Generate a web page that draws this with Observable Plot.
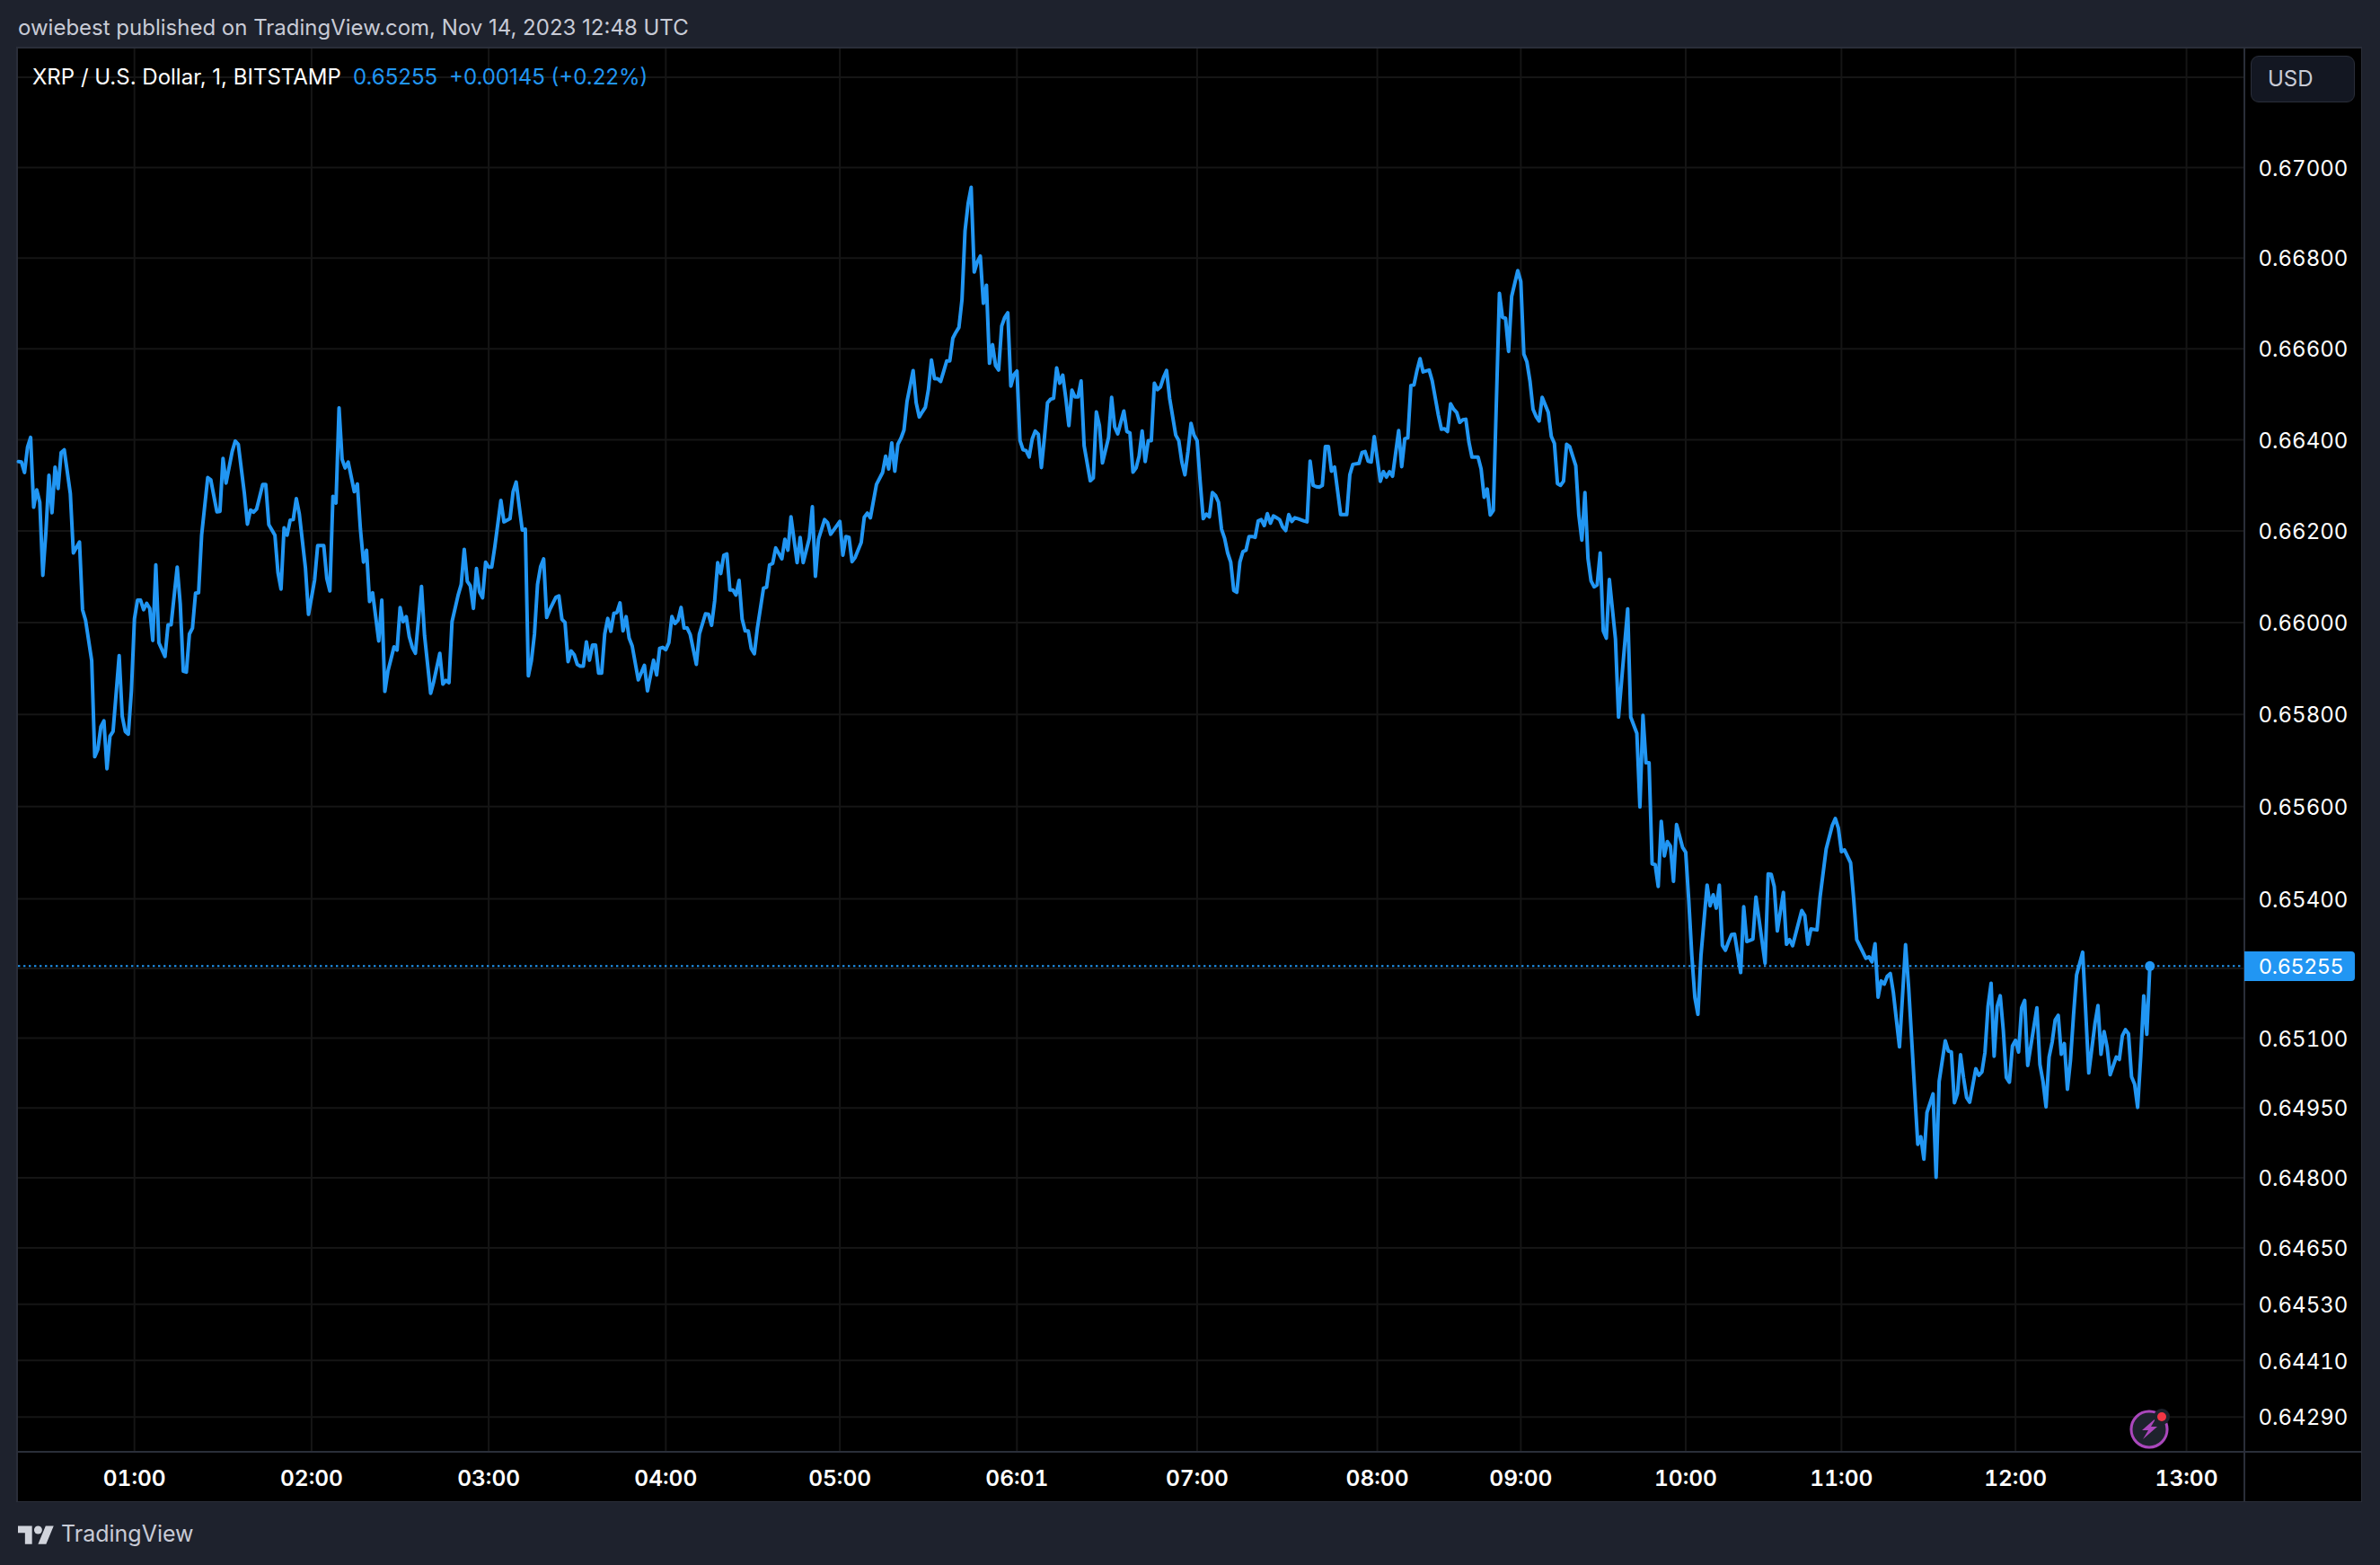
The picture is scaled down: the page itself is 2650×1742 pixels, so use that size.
<!DOCTYPE html>
<html><head><meta charset="utf-8">
<script src="https://cdn.jsdelivr.net/npm/d3@7"></script>
<script src="https://cdn.jsdelivr.net/npm/@observablehq/plot@0.6"></script>
<style>
html,body{margin:0;padding:0;background:#1e222d;width:2650px;height:1742px;overflow:hidden;font-family:Inter,"Noto Sans",sans-serif}
#page{position:relative;width:2650px;height:1742px}
.t{position:absolute;white-space:pre;line-height:1}
#box{position:absolute;left:19px;top:53px;width:2610px;height:1618px;background:#000;outline:2px solid #2a2e39;outline-offset:-1px}
#chart{position:absolute;left:20px;top:54px}
#chart svg{display:block;background:#000}
.sep{position:absolute;background:#2a2e39}
</style></head><body><div id="page">
<div class="t" id="pub" style="left:20px;top:19px;font-size:24px;color:#c8cbd6">owiebest published on TradingView.com, Nov 14, 2023 12:48 UTC</div>
<div id="box"></div>
<div id="chart"></div>
<div class="sep" style="left:2498px;top:54px;width:2px;height:1617px"></div>
<div class="sep" style="left:20px;top:1615px;width:2609px;height:2px"></div>
<div class="t" style="left:36px;top:74px;font-size:24px;color:#fff">XRP / U.S. Dollar, 1, BITSTAMP</div>
<div class="t" style="left:393px;top:74px;font-size:24px;color:#2196f3">0.65255</div>
<div class="t" style="left:500px;top:74px;font-size:24px;color:#2196f3">+0.00145 (+0.22%)</div>
<div style="position:absolute;left:2506px;top:62px;width:116px;height:52px;background:#131722;border:1px solid #2a2e39;border-radius:9px;box-sizing:border-box"></div>
<div class="t" style="left:2525px;top:76px;font-size:24px;color:#c8cbd6">USD</div>
<div id="lastTag" style="position:absolute;left:2499px;width:123px;height:33px;background:#2196f3;border-radius:0 4px 4px 0"></div>
<div id="lastTxt" class="t" style="left:2515px;font-size:23.5px;color:#fff;letter-spacing:.3px">0.65255</div>
<svg style="position:absolute;left:0;top:0" width="2650" height="1742">
  <circle cx="2393" cy="1591" r="21.5" fill="#1e222d"/>
  <circle cx="2393" cy="1591" r="20" fill="none" stroke="#ab47bc" stroke-width="3"/>
  <path d="M2401 1578l-16 14h7l-6 10 16-14h-7z" fill="#ab47bc"/>
  <circle cx="2407" cy="1577" r="9" fill="#1e222d"/>
  <circle cx="2407" cy="1577" r="5" fill="#f23645"/>
  <g transform="translate(20,1694) scale(1.12)" fill="#d1d4dc"><path d="M14 22H7V11H0V4h14v18zM28 22h-8l7.5-18h8L28 22z"/><circle cx="20" cy="8" r="4"/></g>
</svg>
<div class="t" style="left:68px;top:1695px;font-size:25px;color:#c8cbd6">TradingView</div>
</div>
<script>
const bars = [
0,1,2,3,4,5,6,7,8,9,
10,11,12,13,14,15,17,18,20,21,
22,24,25,26,27,28,29,30,31,33,
34,35,36,37,38,39,40,41,42,43,
44,45,46,48,49,50,52,53,54,55,
56,57,58,59,60,62,63,65,66,67,
68,70,71,72,74,75,76,77,78,80,
81,82,84,85,86,87,88,89,90,91,
92,94,95,97,98,100,101,102,103,104,
105,106,107,108,110,111,112,113,114,115,
116,118,119,120,121,122,123,124,125,126,
127,128,129,130,132,133,135,136,138,139,
140,141,142,144,145,146,147,148,149,150,
151,152,153,154,155,156,158,159,161,162,
163,165,166,167,168,169,170,171,172,173,
174,176,177,178,179,180,181,182,183,184,
185,186,187,188,189,190,191,192,193,194,
195,196,197,198,199,200,201,203,205,206,
208,209,210,211,212,213,214,215,216,217,
218,219,220,222,223,225,226,227,228,229,
230,231,232,233,234,235,236,237,238,239,
240,241,242,244,245,246,247,248,250,251,
252,253,255,256,257,259,260,261,262,264,
265,266,269,270,271,272,273,274,276,277,
278,279,281,283,284,285,286,287,288,289,
290,291,293,294,295,296,297,298,299,300,
301,302,303,304,305,306,307,308,309,310,
311,312,313,314,315,316,317,318,319,320,
321,322,323,324,325,326,327,328,329,330,
331,332,333,334,335,336,337,338,339,340,
341,342,343,344,345,346,347,348,349,351,
352,353,354,355,357,358,359,360,362,363,
364,365,366,367,368,369,370,371,372,373,
374,375,376,377,379,380,381,382,383,384,
385,386,387,388,389,390,391,392,393,394,
395,396,397,398,399,400,401,402,403,404,
405,406,407,408,409,410,411,412,413,414,
415,416,417,418,419,421,422,423,424,425,
426,427,428,429,430,431,433,435,436,437,
439,440,441,442,443,444,446,447,448,449,
450,452,453,454,455,456,457,458,459,460,
462,463,465,466,467,468,469,470,471,472,
473,474,475,476,478,479,480,481,482,483,
485,486,487,488,489,491,492,493,494,495,
496,497,498,499,501,502,503,504,505,506,
507,508,510,511,512,513,514,515,516,517,
518,519,520,521,523,524,527,528,530,531,
532,533,534,535,536,537,538,539,540,541,
542,543,545,546,547,548,549,550,551,553,
554,555,556,557,558,559,560,561,562,564,
565,566,568,569,572,573,574,575,576,578,
579,580,581,584,585,586,587,589,590,592,
594,595,596,597,598,600,601,602,605,606,
607,608,609,610,611,612,613,614,615,616,
618,619,622,623,624,625,627,628,629,631,
632,633,634,635,636,637,638,639,641,642,
643,644,645,646,647,648,649,650,651,652,
653,654,655,656,657,658,661,662,663,664,
665,666,667,668,669,670,671,672,673,674,
676,678,680,681,682,683,684,685,687,688,
689,690,691,692,693,694,695,696,697,698];
const prices = [
.66352,.66351,.66328,.66384,.66405,.66252,.66290,.66263,.66103,.66197,
.66322,.66240,.66340,.66293,.66372,.66378,.66282,.66152,.66176,.66028,
.66005,.65917,.65708,.65724,.65773,.65786,.65682,.65753,.65763,.65928,
.65796,.65763,.65757,.65851,.66008,.66049,.66049,.66028,.66042,.66031,
.65961,.66126,.65956,.65926,.65995,.65995,.66121,.66041,.65894,.65892,
.65975,.65988,.66064,.66065,.66191,.66317,.66312,.66242,.66243,.66359,
.66305,.66374,.66397,.66390,.66282,.66215,.66246,.66241,.66248,.66302,
.66302,.66214,.66191,.66109,.66073,.66207,.66191,.66224,.66225,.66271,
.66237,.66119,.66018,.66093,.66168,.66168,.66096,.66069,.66276,.66261,
.66470,.66357,.66338,.66351,.66286,.66303,.66204,.66132,.66158,.66046,
.66065,.65960,.66049,.65850,.65894,.65920,.65947,.65940,.66033,.66002,
.66013,.65969,.65946,.65933,.66079,.65972,.65846,.65871,.65933,.65866,
.65874,.65869,.66002,.66060,.66083,.66160,.66090,.66080,.66031,.66118,
.66067,.66054,.66132,.66121,.66121,.66165,.66267,.66220,.66227,.66286,
.66307,.66202,.66204,.65884,.65917,.65975,.66083,.66122,.66139,.66011,
.66028,.66055,.66058,.66007,.66000,.65915,.65938,.65930,.65909,.65905,
.65905,.65958,.65918,.65951,.65951,.65890,.65890,.65975,.66009,.65981,
.66020,.66022,.66043,.65982,.66013,.65966,.65949,.65875,.65907,.65851,
.65918,.65886,.65944,.65946,.65941,.65956,.66013,.65998,.66005,.66033,
.65988,.65988,.65974,.65909,.65975,.66019,.66018,.65994,.66047,.66131,
.66107,.66147,.66150,.66071,.66071,.66060,.66092,.66008,.65982,.65982,
.65943,.65932,.65988,.66075,.66077,.66126,.66129,.66163,.66139,.66182,
.66158,.66231,.66131,.66186,.66131,.66184,.66253,.66101,.66182,.66225,
.66218,.66193,.66221,.66147,.66188,.66186,.66133,.66142,.66175,.66230,
.66239,.66229,.66302,.66328,.66364,.66336,.66393,.66331,.66390,.66403,
.66421,.66484,.66552,.66481,.66450,.66461,.66471,.66510,.66575,.66534,
.66534,.66528,.66550,.66573,.66573,.66623,.66636,.66647,.66708,.66860,
.66920,.66956,.66769,.66791,.66804,.66700,.66740,.66568,.66609,.66563,
.66553,.66650,.66669,.66679,.66518,.66543,.66551,.66398,.66378,.66376,
.66362,.66402,.66419,.66412,.66339,.66405,.66481,.66489,.66491,.66558,
.66524,.66542,.66491,.66431,.66509,.66494,.66494,.66529,.66387,.66310,
.66316,.66461,.66431,.66349,.66405,.66493,.66428,.66413,.66463,.66418,
.66415,.66329,.66338,.66364,.66419,.66352,.66398,.66398,.66524,.66510,
.66516,.66537,.66552,.66491,.66410,.66398,.66351,.66323,.66374,.66436,
.66410,.66398,.66308,.66227,.66237,.66231,.66284,.66278,.66263,.66204,
.66184,.66152,.66132,.66070,.66066,.66132,.66155,.66158,.66188,.66188,
.66186,.66222,.66225,.66212,.66238,.66217,.66233,.66229,.66225,.66209,
.66201,.66236,.66221,.66229,.66227,.66222,.66220,.66353,.66300,.66297,
.66296,.66300,.66385,.66385,.66331,.66340,.66236,.66236,.66323,.66346,
.66348,.66372,.66374,.66353,.66351,.66407,.66309,.66330,.66318,.66330,
.66320,.66420,.66341,.66402,.66404,.66519,.66520,.66552,.66578,.66549,
.66553,.66529,.66454,.66423,.66424,.66418,.66479,.66467,.66460,.66438,
.66444,.66445,.66395,.66362,.66362,.66336,.66274,.66292,.66235,.66245,
.66722,.66669,.66667,.66594,.66715,.66772,.66748,.66588,.66571,.66529,
.66467,.66451,.66441,.66493,.66460,.66407,.66392,.66304,.66300,.66309,
.66390,.66385,.66343,.66235,.66180,.66284,.66140,.66091,.66078,.66082,
.66152,.65982,.65966,.66094,.65964,.65794,.66030,.65794,.65759,.65599,
.65798,.65695,.65695,.65476,.65474,.65427,.65568,.65493,.65524,.65514,
.65438,.65561,.65511,.65501,.65397,.65278,.65187,.65151,.65278,.65430,
.65385,.65409,.65380,.65430,.65300,.65289,.65307,.65323,.65324,.65241,
.65383,.65308,.65313,.65404,.65261,.65454,.65453,.65427,.65331,.65414,
.65302,.65312,.65299,.65375,.65364,.65302,.65335,.65333,.65404,.65508,
.65559,.65574,.65553,.65502,.65506,.65478,.65401,.65312,.65272,.65275,
.65264,.65303,.65188,.65223,.65216,.65233,.65239,.65198,.65139,.65081,
.65301,.65210,.64872,.64888,.64840,.64940,.64980,.64801,.65007,.65094,
.65072,.65070,.64961,.64981,.65064,.65014,.64972,.64962,.65034,.65020,
.65027,.65069,.65168,.65218,.65061,.65168,.65191,.65117,.65015,.65005,
.65083,.65095,.65070,.65165,.65181,.65041,.65165,.65043,.65007,.64952,
.65059,.65091,.65139,.65149,.65065,.65088,.64990,.65052,.65149,.65236,
.65285,.65025,.65130,.65170,.65065,.65114,.65081,.65021,.65059,.65054,
.65105,.65118,.65109,.65017,.65001,.64951,.65059,.65191,.65108,.65255];
const tickBars = [38,96,154,212,269,327,386,445,492,546,597,654,710];
const tickLabels = ["01:00","02:00","03:00","04:00","05:00","06:01","07:00","08:00","09:00","10:00","11:00","12:00","13:00"];
const gridPrices = [.672,.67,.668,.666,.664,.662,.66,.658,.656,.654,.6525,.651,.6495,.648,.6465,.6453,.6441,.6429];
const axisPrices = [.67,.668,.666,.664,.662,.66,.658,.656,.654,.651,.6495,.648,.6465,.6453,.6441,.6429];
const lastPrice = 0.65255;
const lastBar = 698;
const lineColor = "#2196f3", gridColor = "#151515";
const table = bars.map((b,i)=>({bar:b,price:prices[i]}));
const labelOf = new Map(tickBars.map((b,i)=>[b,tickLabels[i]]));

const chart = Plot.plot({
  width:2609, height:1617,
  marginLeft:0, marginTop:0, marginRight:130, marginBottom:55,
  style:{background:"#000",fontFamily:"Inter,'Noto Sans',sans-serif",color:"#fff",overflow:"visible"},
  x:{type:"linear",domain:[0,729.1],label:null},
  y:{type:"log",domain:[0.64215,0.67263],label:null},
  marks:[
    Plot.gridX(tickBars,{stroke:gridColor,strokeOpacity:1,strokeWidth:2}),
    Plot.gridY(gridPrices,{stroke:gridColor,strokeOpacity:1,strokeWidth:2}),
    Plot.axisY(axisPrices,{anchor:"right",tickSize:0,tickPadding:15,dy:1.5,fontSize:24,fill:"#fff",tickFormat:d3.format(".5f"),label:null,textAnchor:"start"}),
    Plot.axisX(tickBars,{anchor:"bottom",tickSize:0,tickPadding:20,fontSize:24.5,fontWeight:600,fill:"#fff",tickFormat:d=>labelOf.get(d),label:null}),
    Plot.ruleY([lastPrice],{stroke:lineColor,strokeWidth:2,strokeDasharray:"2.4,3.6"}),
    Plot.line(table,{x:"bar",y:"price",stroke:lineColor,strokeWidth:4,curve:"linear",strokeLinejoin:"round"}),
    Plot.dot([{bar:lastBar,price:lastPrice}],{x:"bar",y:"price",r:5.5,fill:lineColor})
  ]
});
document.getElementById("chart").appendChild(chart);
const ly = 54 + chart.scale("y").apply(lastPrice);
document.getElementById("lastTag").style.top = (ly-16)+"px";
document.getElementById("lastTxt").style.top = (ly-11)+"px";
</script>
</body></html>
